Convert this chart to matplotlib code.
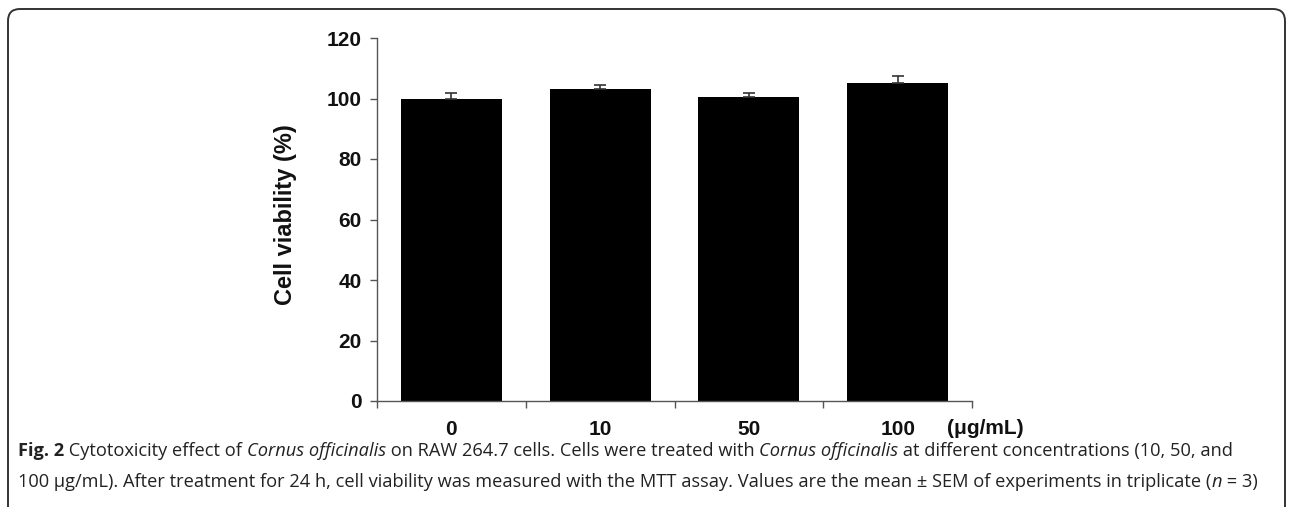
import numpy as np
import matplotlib
matplotlib.use('Agg')
import matplotlib.pyplot as plt
from matplotlib import font_manager
from matplotlib.patches import FancyBboxPatch
from matplotlib.transforms import IdentityTransform

# data
concentrations = ['0', '10', '50', '100']
viability = [100.0, 103.0, 100.5, 105.2]
sem = [1.8, 1.6, 1.3, 2.1]
y_ticks = [0, 20, 40, 60, 80, 100, 120]

caption_line1 = [('Fig. 2', 'bold', 'normal'),
                 (' Cytotoxicity effect of ', 'normal', 'normal'),
                 ('Cornus officinalis', 'normal', 'italic'),
                 (' on RAW 264.7 cells. Cells were treated with ', 'normal', 'normal'),
                 ('Cornus officinalis', 'normal', 'italic'),
                 (' at different concentrations (10, 50, and', 'normal', 'normal')]
caption_line2 = [('100 \u03bcg/mL). After treatment for 24 h, cell viability was measured with the MTT assay. '
                  'Values are the mean \u00b1 SEM of experiments in triplicate (', 'normal', 'normal'),
                 ('n', 'normal', 'italic'),
                 (' = 3)', 'normal', 'normal')]

# fonts
installed = {f.name for f in font_manager.fontManager.ttflist}
chart_font = 'Liberation Sans' if 'Liberation Sans' in installed else 'DejaVu Sans'
cap_font = chart_font
for name in ['Liberation Sans Narrow', 'Open Sans', 'Noto Sans']:
    if name in installed:
        cap_font = name
        break
plt.rcParams['font.family'] = [chart_font, 'DejaVu Sans']

W, H = 1295, 507
fig = plt.figure(figsize=(W / 100, H / 100), dpi=100)

# rounded frame around the figure panel
frame = FancyBboxPatch((8, -30), 1277, H - 9 + 30, boxstyle='round,pad=0,rounding_size=12',
                       transform=IdentityTransform(), facecolor='none', edgecolor='#333333',
                       linewidth=1.4)
fig.patches.append(frame)

ax = fig.add_axes([377 / W, 1 - 401 / H, (972 - 377) / W, (401 - 38) / H])
x = np.arange(len(concentrations))
ax.bar(x, viability, width=0.68, color='black', zorder=2)
ax.errorbar(x, viability, yerr=[np.zeros(len(sem)), sem], fmt='none', ecolor='#333333',
            elinewidth=1.2, capsize=4.3, capthick=1.2, zorder=3)

ax.set_xlim(-0.5, len(concentrations) - 0.5)
ax.set_ylim(0, 120)
ax.set_yticks(y_ticks)
ax.set_yticklabels([str(v) for v in y_ticks], fontsize=15, fontweight='bold', color='#111111')
ax.set_xticks(x)
ax.set_xticklabels(concentrations, fontsize=15, fontweight='bold', color='#111111')
ax.set_xticks(np.arange(-0.5, len(concentrations)), minor=True)
ax.tick_params(axis='x', which='major', length=0, pad=14)
ax.tick_params(axis='x', which='minor', length=5, width=1, color='#555555', direction='out')
ax.tick_params(axis='y', length=5, width=1, color='#555555', pad=6)
ax.spines['top'].set_visible(False)
ax.spines['right'].set_visible(False)
for s in ['left', 'bottom']:
    ax.spines[s].set_color('#555555')
    ax.spines[s].set_linewidth(1.0)
ax.set_ylabel('Cell viability (%)', fontsize=17, fontweight='bold', color='#111111')
ax.yaxis.set_label_coords(297 / W, 1 - 215 / H, transform=fig.transFigure)

fig.text(947 / W, 1 - 428 / H, '(\u03bcg/mL)', fontsize=15, fontweight='bold', color='#111111',
         va='center', ha='left')

# caption, drawn piece by piece so bold / italic runs sit inline
renderer = fig.canvas.get_renderer()


def draw_line(pieces, y_px, size):
    xpos = 18
    for txt, weight, style in pieces:
        t = fig.text(xpos / W, 1 - y_px / H, txt, fontsize=size, fontweight=weight, fontstyle=style,
                     family=[cap_font, 'DejaVu Sans'], va='baseline', ha='left', color='#222222',
                     transform=fig.transFigure)
        bb = t.get_window_extent(renderer=renderer)
        xpos += bb.width
    return xpos


def line_width(pieces, size):
    total = 0
    for txt, weight, style in pieces:
        t = fig.text(0, 0, txt, fontsize=size, fontweight=weight, fontstyle=style,
                     family=[cap_font, 'DejaVu Sans'])
        total += t.get_window_extent(renderer=renderer).width
        t.remove()
    return total


# pick the caption size so the second line spans the same width as in the reference
base = 12
cap_size = base * (1255 - 18) / line_width(caption_line2, base)
draw_line(caption_line1, 456, cap_size)
draw_line(caption_line2, 487, cap_size)

fig.savefig('out.png', dpi=100)
